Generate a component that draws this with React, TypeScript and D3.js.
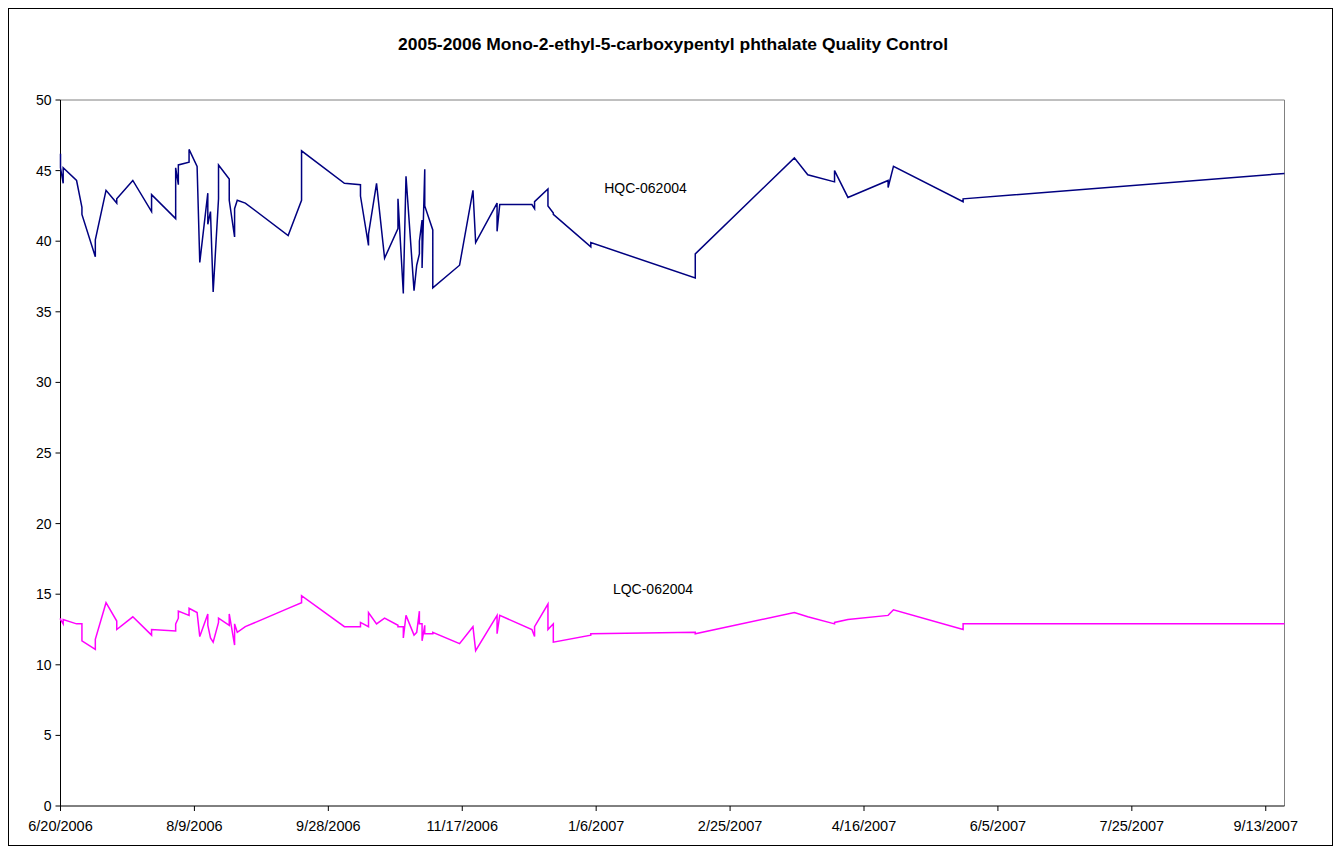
import * as d3 from 'd3';

// QC run dates (shared by both control pools)
const runDates = [
  '2006-06-20', '2006-06-20', '2006-06-21', '2006-06-21', '2006-06-26', '2006-06-28', '2006-06-28',
  '2006-07-03', '2006-07-03', '2006-07-07', '2006-07-11', '2006-07-11', '2006-07-17', '2006-07-24',
  '2006-07-24', '2006-08-02', '2006-08-02', '2006-08-03', '2006-08-03', '2006-08-07', '2006-08-07',
  '2006-08-10', '2006-08-11', '2006-08-14', '2006-08-14', '2006-08-15', '2006-08-16', '2006-08-18',
  '2006-08-18', '2006-08-22', '2006-08-22', '2006-08-24', '2006-08-24', '2006-08-25', '2006-08-28',
  '2006-09-13', '2006-09-18', '2006-09-18', '2006-10-04', '2006-10-10', '2006-10-10', '2006-10-13',
  '2006-10-13', '2006-10-16', '2006-10-19', '2006-10-24', '2006-10-24', '2006-10-26', '2006-10-26',
  '2006-10-27', '2006-10-30', '2006-10-31', '2006-11-01', '2006-11-01', '2006-11-02', '2006-11-02',
  '2006-11-03', '2006-11-03', '2006-11-06', '2006-11-06', '2006-11-16', '2006-11-21', '2006-11-22',
  '2006-11-30', '2006-11-30', '2006-12-01', '2006-12-13', '2006-12-14', '2006-12-14', '2006-12-19',
  '2006-12-19', '2006-12-21', '2006-12-21', '2007-01-04', '2007-01-04', '2007-02-12', '2007-02-12',
  '2007-03-21', '2007-03-26', '2007-04-05', '2007-04-05', '2007-04-10', '2007-04-25', '2007-04-25',
  '2007-04-27', '2007-05-23', '2007-05-23', '2007-09-20',
];

const hqcValues = [
  46.2, 45.2, 44.1, 45.2, 44.3, 42.4, 41.9,
  38.9, 40.1, 43.6, 42.7, 43.0, 44.3, 42.1,
  43.3, 41.6, 45.2, 44.0, 45.4, 45.6, 46.5,
  45.3, 38.5, 43.4, 41.2, 42.1, 36.4, 43.0,
  45.4, 44.4, 42.9, 40.3, 42.3, 42.9, 42.7,
  40.4, 42.9, 46.4, 44.1, 44.0, 43.2, 39.7,
  40.5, 44.1, 38.8, 40.9, 43.0, 36.3, 36.5,
  44.6, 36.5, 38.3, 39.1, 40.0, 41.5, 38.1,
  45.1, 42.5, 40.8, 36.7, 38.3, 43.6, 39.9,
  42.7, 40.7, 42.6, 42.6, 42.3, 42.8, 43.7,
  42.5, 42.0, 41.9, 39.6, 39.9, 37.4, 39.1,
  45.9, 44.7, 44.2, 45.0, 43.1, 44.3, 43.8,
  45.3, 42.8, 43.0, 44.8,
];

const lqcValues = [
  13.3, 13.2, 12.9, 13.2, 12.9, 12.9, 11.7,
  11.1, 11.8, 14.4, 13.1, 12.5, 13.4, 12.1,
  12.5, 12.4, 12.9, 13.3, 13.8, 13.5, 14.0,
  13.7, 12.0, 13.6, 12.8, 11.9, 11.6, 13.0,
  13.3, 12.8, 13.6, 11.4, 12.9, 12.3, 12.7,
  14.0, 14.4, 14.9, 12.7, 12.7, 13.0, 12.7,
  13.7, 12.9, 13.3, 12.8, 12.7, 12.7, 11.9,
  13.5, 12.1, 12.3, 13.8, 12.9, 12.9, 11.7,
  12.8, 12.2, 12.2, 12.3, 11.5, 12.7, 11.0,
  13.5, 12.2, 13.5, 12.5, 12.0, 12.7, 14.3,
  12.5, 12.9, 11.6, 12.1, 12.2, 12.3, 12.2,
  13.7, 13.4, 12.9, 13.0, 13.2, 13.5, 13.5,
  13.9, 12.5, 12.9, 12.9,
];

const yTicks = [0, 5, 10, 15, 20, 25, 30, 35, 40, 45, 50];
const axisStart = '2006-06-20';
const axisEnd = '2007-09-20';
const tickStepDays = 50;
const tickCount = 10;

const title = '2005-2006 Mono-2-ethyl-5-carboxypentyl phthalate Quality Control';
const hqcLabel = 'HQC-062004';
const lqcLabel = 'LQC-062004';

const WIDTH = 1325;
const HEIGHT = 838;
const PLOT = { left: 52.5, right: 1276.5, top: 92, bottom: 798 };
const FONT = '"Liberation Sans", Arial, sans-serif';

const parseDate = d3.utcParse('%Y-%m-%d');
const formatTick = d3.utcFormat('%-m/%-d/%Y');

export default function App() {
  const start = parseDate(axisStart)!;
  const end = parseDate(axisEnd)!;

  const x = d3.scaleUtc().domain([start, end]).range([PLOT.left, PLOT.right]);
  const y = d3.scaleLinear().domain([0, 50]).range([PLOT.bottom, PLOT.top]);

  const xTicks = d3.range(tickCount).map((i) => d3.utcDay.offset(start, i * tickStepDays));
  const dates = runDates.map((d) => parseDate(d)!);

  const line = d3
    .line<number>()
    .x((_, i) => x(dates[i]))
    .y((v) => y(v));

  return (
    <svg width={WIDTH} height={HEIGHT} style={{ display: 'block', fontFamily: FONT }}>
      <rect x={0.5} y={0.5} width={WIDTH - 1} height={HEIGHT - 1} fill="#fff" stroke="#000" strokeWidth={1} />

      <text x={665} y={42} textAnchor="middle" fontSize={16} fontWeight="bold" fill="#000"
        textLength={550} lengthAdjust="spacingAndGlyphs">
        {title}
      </text>

      {/* plot frame: grey top/right, black axes */}
      <line x1={PLOT.left} x2={PLOT.right} y1={PLOT.top} y2={PLOT.top} stroke="#808080" />
      <line x1={PLOT.right} x2={PLOT.right} y1={PLOT.top} y2={PLOT.bottom} stroke="#808080" />
      <line x1={PLOT.left} x2={PLOT.left} y1={PLOT.top} y2={PLOT.bottom} stroke="#000" />
      <line x1={PLOT.left} x2={PLOT.right} y1={PLOT.bottom} y2={PLOT.bottom} stroke="#000" />

      {/* y axis */}
      {yTicks.map((t) => (
        <g key={`y-${t}`}>
          <line x1={PLOT.left - 5} x2={PLOT.left} y1={y(t)} y2={y(t)} stroke="#000" />
          <text x={PLOT.left - 9} y={y(t)} dy="0.35em" textAnchor="end" fontSize={14} fill="#000">
            {t}
          </text>
        </g>
      ))}

      {/* x axis */}
      {xTicks.map((t) => (
        <g key={`x-${t.getTime()}`}>
          <line x1={x(t)} x2={x(t)} y1={PLOT.bottom} y2={PLOT.bottom + 5} stroke="#000" />
          <text x={x(t)} y={PLOT.bottom + 25} textAnchor="middle" fontSize={14.5} fill="#000">
            {formatTick(t)}
          </text>
        </g>
      ))}

      <path d={line(hqcValues) ?? ''} fill="none" stroke="#000080" strokeWidth={1.5} strokeLinejoin="miter" />
      <path d={line(lqcValues) ?? ''} fill="none" stroke="#FF00FF" strokeWidth={1.5} strokeLinejoin="miter" />

      <text x={637.5} y={185} textAnchor="middle" fontSize={14} fill="#000">
        {hqcLabel}
      </text>
      <text x={645} y={586} textAnchor="middle" fontSize={14} fill="#000">
        {lqcLabel}
      </text>
    </svg>
  );
}
